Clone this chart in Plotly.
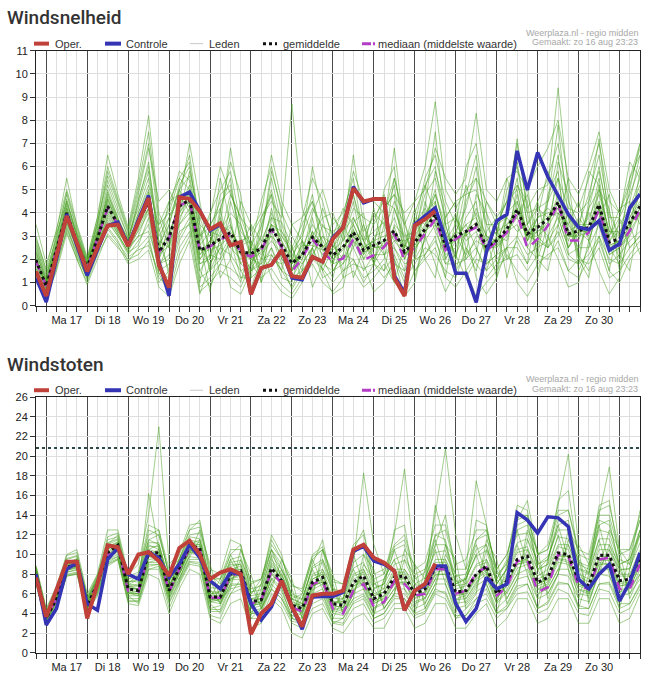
import pandas as pd
import plotly.graph_objects as go

# tijdas: 6-uurlijkse stappen, zo 16 aug 18:00 t/m ma 31 aug 12:00
tijden = pd.date_range('2020-08-16 18:00', periods=60, freq='6h')
middagen = pd.date_range('2020-08-17 12:00', periods=14, freq='D')
dagwissels = pd.date_range('2020-08-17 00:00', periods=15, freq='D')
dag_labels = ['Ma 17', 'Di 18', 'Wo 19', 'Do 20', 'Vr 21', 'Za 22', 'Zo 23',
              'Ma 24', 'Di 25', 'Wo 26', 'Do 27', 'Vr 28', 'Za 29', 'Zo 30']

# ---- Windsnelheid (m/s) ----
oper_snelheid = [1.48, 0.42, 2.15, 3.87, 2.7, 1.48, 2.5, 3.45, 3.5, 2.57,
                 3.6, 4.64, 1.76, 0.77, 4.68, 4.61, 4.08, 3.3, 3.55, 2.6,
                 2.74, 0.49, 1.62, 1.76, 2.39, 1.27, 1.2, 2.1, 1.9, 2.88,
                 3.37, 5.06, 4.5, 4.6, 4.6, 1.2, 0.42, 3.45, 3.73, 4.08]
controle_snelheid = [1.2, 0.15, 2.0, 3.95, 2.6, 1.3, 2.4, 3.45, 3.6, 2.6,
                     3.7, 4.75, 1.9, 0.42, 4.68, 4.9, 4.1, 3.24, 3.5, 2.6,
                     2.74, 0.5, 1.62, 1.76, 2.39, 1.2, 1.12, 2.1, 1.9, 2.95,
                     3.37, 5.13, 4.43, 4.6, 4.6, 1.3, 0.55, 3.5, 3.87, 4.22,
                     2.9, 1.4, 1.4, 0.14, 2.32, 3.66, 3.94, 6.68, 4.99, 6.61,
                     5.56, 4.71, 3.94, 3.38, 3.28, 3.66, 2.39, 2.67, 4.22, 4.82]
gem_snelheid = [1.97, 0.84, 2.4, 4.0, 2.7, 1.62, 2.9, 4.29, 3.52, 2.67,
                3.6, 4.5, 2.32, 2.95, 4.29, 4.57, 2.39, 2.6, 2.88, 3.16,
                2.32, 2.25, 2.46, 3.38, 2.6, 1.83, 2.18, 2.95, 2.53, 2.18,
                2.53, 3.16, 2.39, 2.6, 2.81, 3.23, 2.32, 2.74, 3.3, 3.94,
                2.6, 3.0, 3.2, 3.5, 2.53, 2.81, 3.3, 4.15, 3.1, 3.38,
                3.73, 4.46, 3.1, 3.23, 3.38, 4.36, 2.74, 2.88, 3.59, 4.29]
med_snelheid = [1.9, 0.85, 2.4, 3.95, 2.7, 1.6, 2.9, 4.2, 3.5, 2.6,
                3.6, 4.45, 2.3, 2.9, 4.3, 4.55, 2.35, 2.55, 2.85, 3.05,
                2.3, 2.11, 2.39, 3.3, 2.53, 1.48, 2.04, 2.88, 2.32, 1.9,
                2.04, 2.88, 1.97, 2.18, 2.53, 3.1, 1.97, 2.53, 3.1, 3.73,
                2.4, 2.88, 3.16, 3.38, 2.39, 2.74, 3.16, 4.0, 2.46, 2.88,
                3.45, 4.43, 2.81, 2.81, 3.16, 4.15, 2.53, 2.6, 3.23, 4.15]
leden_snelheid = [
    [2.5, 1.2, 2.8, 4.6, 3.0, 1.8, 3.4, 5.2, 4.0, 3.0, 4.2, 5.5, 3.0, 3.8, 5.0, 5.6, 3.2, 1.5, 2.0, 4.5,
     3.0, 1.2, 3.5, 5.0, 3.2, 2.5, 1.5, 3.8, 2.0, 1.2, 3.0, 4.5, 2.2, 3.6, 4.8, 2.0, 1.0, 4.0, 5.2, 6.0,
     3.5, 2.0, 4.5, 5.5, 2.0, 1.5, 4.0, 6.2, 3.5, 2.5, 4.8, 5.8, 2.2, 1.8, 4.2, 6.0, 3.5, 2.0, 4.5, 6.5],
    [1.4, 0.5, 2.0, 3.5, 2.2, 1.2, 2.5, 3.6, 3.0, 2.2, 2.8, 3.5, 1.5, 1.8, 3.2, 3.5, 1.0, 3.5, 4.2, 2.0,
     1.0, 2.8, 1.5, 2.5, 1.2, 1.0, 2.8, 2.0, 3.5, 2.8, 1.5, 2.0, 1.2, 1.5, 2.0, 4.2, 2.8, 1.5, 2.2, 3.0,
     1.2, 3.8, 2.5, 1.5, 3.2, 3.8, 2.0, 2.8, 1.8, 4.5, 2.5, 3.0, 4.0, 2.2, 1.5, 3.0, 1.5, 3.8, 2.5, 3.0],
    [2.0, 0.8, 2.5, 4.2, 2.8, 1.6, 3.0, 4.8, 3.8, 2.8, 4.5, 6.2, 2.5, 4.5, 4.8, 4.0, 2.0, 2.5, 5.5, 3.5,
     1.8, 1.5, 2.0, 4.2, 2.5, 1.2, 2.0, 3.2, 1.5, 2.5, 3.5, 2.5, 3.5, 2.2, 1.5, 3.5, 3.0, 2.2, 4.5, 3.2,
     2.2, 2.5, 3.8, 4.5, 1.8, 2.2, 3.5, 3.8, 4.8, 3.0, 2.5, 4.0, 3.5, 4.5, 2.8, 4.2, 2.2, 2.5, 3.2, 5.0],
    [1.8, 1.0, 2.2, 3.8, 2.6, 1.4, 2.8, 4.0, 3.2, 2.5, 3.0, 4.2, 2.0, 3.5, 5.2, 6.0, 3.5, 3.0, 2.2, 3.0,
     2.5, 3.5, 2.8, 3.0, 1.8, 2.5, 3.5, 4.5, 3.2, 1.5, 2.2, 3.8, 2.8, 4.0, 3.5, 2.5, 1.5, 3.2, 3.8, 5.0,
     3.0, 4.0, 2.0, 3.0, 2.8, 3.5, 4.5, 5.0, 2.5, 2.0, 3.5, 5.5, 3.0, 3.0, 4.0, 3.5, 3.0, 4.2, 4.5, 3.5],
    [2.2, 0.6, 2.6, 4.4, 2.9, 1.7, 3.1, 4.5, 3.6, 2.7, 3.8, 4.8, 2.8, 2.5, 3.8, 4.5, 1.5, 2.2, 3.2, 4.0,
     3.5, 2.0, 1.8, 3.5, 3.0, 2.2, 1.8, 2.5, 3.0, 2.2, 1.8, 3.0, 2.0, 3.0, 3.2, 4.5, 3.5, 2.5, 3.0, 4.5,
     2.0, 2.8, 3.5, 2.5, 1.5, 3.0, 2.8, 4.5, 3.2, 3.8, 4.2, 3.8, 2.5, 3.5, 3.0, 5.2, 2.5, 1.8, 3.8, 4.8],
    [3.5, 1.8, 3.2, 5.5, 3.4, 2.0, 3.8, 6.5, 4.8, 3.4, 5.5, 8.2, 4.0, 3.0, 4.5, 7.0, 4.5, 2.0, 3.5, 6.8,
     4.2, 2.5, 4.5, 6.0, 4.0, 3.0, 2.2, 4.0, 5.0, 3.5, 4.0, 5.5, 3.0, 2.5, 5.0, 6.0, 2.5, 3.5, 5.5, 6.5,
     4.5, 3.5, 6.0, 7.0, 4.0, 3.0, 5.0, 6.0, 3.5, 4.5, 5.5, 7.0, 4.5, 3.5, 4.8, 6.5, 4.0, 3.0, 5.0, 7.0],
    [1.6, 0.4, 1.8, 3.2, 2.0, 1.0, 2.2, 3.0, 2.5, 2.0, 2.2, 2.8, 1.2, 0.8, 2.5, 3.2, 0.6, 1.0, 1.5, 1.2,
     0.8, 1.8, 1.2, 1.6, 0.9, 0.5, 1.2, 1.8, 1.0, 0.6, 1.2, 1.5, 0.8, 1.2, 1.8, 1.0, 0.5, 1.5, 2.0, 2.5,
     1.2, 0.8, 1.5, 0.4, 1.0, 1.5, 2.2, 1.5, 1.0, 1.8, 2.2, 2.5, 1.5, 1.2, 2.0, 2.8, 1.5, 1.0, 2.0, 2.5],
    [2.8, 1.4, 2.6, 4.0, 2.8, 1.8, 3.2, 4.6, 3.5, 2.6, 3.5, 4.2, 3.5, 4.5, 5.5, 5.0, 2.8, 4.0, 5.0, 5.8,
     3.5, 2.2, 3.0, 5.5, 3.5, 2.0, 3.2, 4.8, 2.5, 3.0, 4.2, 3.5, 2.5, 2.8, 3.8, 5.2, 2.2, 2.8, 4.0, 4.5,
     2.5, 3.2, 4.2, 6.0, 3.5, 2.5, 3.0, 4.8, 3.0, 2.8, 4.5, 6.5, 3.2, 2.5, 3.5, 5.5, 2.8, 3.5, 4.2, 5.5],
    [1.9, 0.9, 2.4, 4.1, 2.7, 1.5, 2.9, 4.4, 3.4, 2.6, 3.2, 4.0, 1.8, 2.2, 4.0, 4.8, 2.2, 2.8, 3.8, 2.5,
     2.0, 2.5, 2.2, 2.8, 2.2, 1.5, 2.5, 3.5, 2.8, 2.0, 2.5, 3.2, 2.0, 2.5, 2.5, 3.0, 2.0, 3.5, 4.2, 3.5,
     2.8, 3.5, 2.8, 3.2, 2.2, 3.5, 3.8, 3.2, 3.5, 4.2, 3.8, 4.0, 2.8, 3.8, 3.2, 4.0, 2.2, 2.5, 3.0, 4.0],
    [2.3, 1.0, 2.7, 4.3, 2.5, 1.7, 3.3, 5.0, 3.8, 2.4, 4.0, 5.0, 2.2, 3.2, 4.2, 5.2, 2.5, 1.8, 2.5, 3.8,
     1.5, 1.8, 2.6, 4.0, 2.8, 1.8, 2.2, 2.8, 2.2, 2.5, 3.2, 3.8, 2.8, 2.0, 2.8, 3.8, 2.5, 3.8, 3.5, 4.8,
     3.2, 2.2, 3.2, 4.0, 3.0, 2.8, 3.8, 5.5, 2.8, 3.2, 3.5, 4.8, 3.8, 3.2, 3.8, 4.8, 3.2, 3.0, 4.0, 5.2],
    [1.2, 0.3, 1.6, 3.3, 2.3, 1.1, 2.4, 3.4, 2.8, 1.9, 2.5, 3.0, 1.0, 1.5, 3.0, 3.8, 1.2, 1.5, 2.5, 2.2,
     1.5, 0.8, 2.0, 2.2, 1.5, 1.2, 1.5, 2.2, 1.8, 1.5, 1.8, 2.5, 1.5, 2.2, 2.2, 2.5, 1.8, 2.0, 2.8, 3.5,
     1.8, 2.2, 1.2, 2.0, 1.8, 2.2, 2.5, 3.0, 2.2, 2.5, 2.8, 3.5, 2.2, 2.5, 2.5, 3.5, 1.8, 2.2, 2.8, 3.2],
    [2.6, 1.1, 3.0, 4.8, 3.2, 1.9, 3.6, 5.6, 4.4, 3.1, 4.8, 6.8, 4.5, 5.0, 4.0, 5.8, 3.8, 2.5, 4.8, 5.2,
     2.8, 3.0, 3.8, 4.5, 3.8, 8.7, 4.2, 3.0, 3.8, 4.0, 2.8, 4.2, 3.8, 3.5, 4.2, 4.8, 4.0, 4.5, 6.0, 8.8,
     5.0, 4.2, 5.0, 5.5, 4.5, 3.8, 4.5, 7.0, 4.2, 5.0, 5.2, 9.4, 5.0, 4.2, 5.5, 7.0, 4.5, 4.0, 5.5, 6.5],
    [1.7, 0.7, 2.3, 3.7, 2.4, 1.3, 2.6, 3.8, 3.1, 2.3, 2.6, 3.8, 1.6, 2.8, 3.5, 4.2, 1.8, 2.2, 2.0, 2.8,
     2.2, 2.2, 1.5, 3.2, 2.0, 1.5, 2.2, 3.0, 2.4, 1.8, 2.0, 2.8, 2.2, 2.8, 2.2, 2.8, 2.2, 2.6, 3.2, 3.8,
     2.5, 3.0, 2.2, 2.8, 2.5, 2.5, 3.2, 3.5, 2.5, 3.5, 3.0, 3.8, 2.5, 3.2, 2.8, 4.2, 2.5, 2.8, 3.2, 4.0],
    [2.1, 0.9, 2.5, 3.9, 2.8, 1.6, 3.0, 4.2, 3.3, 2.7, 3.6, 4.5, 2.4, 3.8, 4.6, 4.8, 2.6, 3.2, 3.0, 3.5,
     2.2, 2.0, 2.8, 3.8, 2.8, 2.0, 2.0, 3.2, 2.6, 2.4, 2.8, 3.5, 2.5, 2.8, 3.0, 3.2, 2.4, 2.8, 3.5, 4.2,
     2.8, 3.0, 3.5, 3.8, 2.8, 3.2, 3.5, 4.2, 3.2, 3.5, 3.8, 4.5, 3.2, 3.5, 3.5, 4.5, 2.8, 3.2, 3.8, 4.5],
    [3.0, 1.5, 2.9, 4.9, 3.3, 2.0, 3.5, 5.8, 4.5, 3.2, 5.0, 7.0, 3.5, 4.0, 5.5, 6.2, 3.0, 3.8, 6.0, 4.8,
     3.8, 3.2, 4.0, 6.5, 4.5, 3.5, 3.8, 5.5, 4.5, 2.8, 3.8, 5.8, 4.5, 4.5, 4.0, 5.5, 3.5, 4.5, 5.0, 6.8,
     5.5, 4.8, 5.5, 8.3, 5.0, 4.5, 5.5, 5.8, 5.0, 6.0, 6.8, 8.0, 5.5, 4.8, 6.0, 7.5, 5.0, 4.0, 5.2, 6.8],
    [1.5, 0.6, 2.1, 3.6, 2.5, 1.3, 2.7, 3.7, 3.0, 2.4, 3.0, 3.2, 1.8, 2.0, 3.5, 4.0, 1.5, 0.8, 1.8, 2.8,
     1.2, 1.5, 1.8, 2.5, 1.5, 0.8, 1.8, 2.5, 1.2, 1.5, 2.2, 2.0, 1.0, 1.8, 1.5, 2.2, 1.2, 1.8, 2.5, 2.2,
     1.5, 1.2, 2.5, 1.8, 1.2, 1.8, 2.0, 2.2, 1.5, 2.2, 2.0, 2.8, 1.5, 2.0, 1.8, 2.5, 1.2, 1.5, 2.2, 2.8],
    [2.4, 1.0, 2.6, 4.2, 3.1, 1.9, 3.0, 4.9, 3.6, 2.8, 4.4, 5.8, 2.8, 1.5, 4.4, 5.0, 2.0, 2.8, 3.5, 3.2,
     2.6, 2.8, 2.0, 3.5, 3.2, 2.2, 2.8, 2.2, 3.0, 2.6, 2.0, 3.2, 2.8, 3.2, 3.6, 2.8, 2.8, 3.0, 3.8, 4.8,
     3.5, 3.8, 3.0, 4.2, 3.0, 2.6, 4.0, 4.5, 2.8, 3.8, 4.0, 4.2, 3.5, 2.8, 4.2, 5.0, 3.2, 3.2, 3.5, 4.2],
    [2.0, 0.8, 2.3, 4.0, 2.6, 1.5, 2.8, 4.3, 3.3, 2.5, 3.4, 4.6, 2.0, 3.0, 4.4, 4.4, 2.4, 2.4, 2.6, 3.0,
     1.8, 2.4, 2.5, 3.0, 2.5, 1.8, 2.6, 2.6, 2.4, 2.2, 2.6, 3.0, 2.4, 2.6, 2.8, 3.0, 2.6, 2.4, 3.2, 3.6,
     2.4, 3.2, 3.0, 3.5, 2.6, 2.8, 3.2, 3.8, 3.0, 3.0, 3.4, 4.2, 3.0, 3.2, 3.2, 4.2, 2.6, 2.8, 3.4, 4.2],
    [2.7, 1.3, 3.1, 4.5, 3.0, 1.8, 3.6, 5.4, 4.2, 2.9, 4.6, 6.0, 3.2, 4.2, 5.8, 5.4, 3.0, 3.4, 4.5, 5.0,
     3.2, 2.6, 3.4, 4.8, 3.0, 2.4, 3.0, 4.2, 3.4, 3.2, 3.5, 4.8, 3.2, 3.8, 4.5, 4.2, 3.0, 3.2, 4.8, 5.5,
     3.8, 4.5, 4.8, 5.0, 3.5, 3.5, 4.5, 5.2, 4.0, 4.2, 4.5, 5.5, 4.2, 4.0, 4.5, 5.8, 3.8, 3.8, 4.8, 6.0],
    [1.3, 0.4, 1.9, 3.4, 2.1, 1.2, 2.3, 3.3, 2.7, 2.1, 2.4, 2.6, 1.4, 1.2, 2.8, 3.6, 0.8, 1.2, 1.8, 1.6,
     1.2, 1.2, 1.6, 2.0, 1.8, 0.7, 1.5, 2.0, 1.6, 1.0, 1.5, 1.8, 1.6, 1.8, 1.2, 1.8, 1.5, 2.0, 2.2, 2.8,
     1.8, 1.8, 2.0, 2.5, 1.5, 2.0, 2.5, 2.5, 1.8, 2.8, 2.5, 3.2, 2.0, 1.8, 2.2, 3.0, 2.0, 1.8, 2.5, 3.0],
    [2.3, 1.1, 2.6, 4.5, 3.1, 1.8, 3.2, 4.7, 3.7, 2.9, 4.0, 5.2, 3.4, 1.2, 3.6, 5.0, 2.8, 0.6, 3.0, 4.8,
     3.8, 2.6, 1.0, 3.8, 3.6, 2.6, 1.0, 2.5, 4.2, 3.0, 1.2, 3.6, 4.0, 1.8, 2.6, 5.5, 3.8, 1.2, 3.0, 5.8,
     4.2, 1.5, 2.2, 4.8, 4.0, 1.8, 2.5, 5.2, 4.5, 1.5, 2.8, 6.2, 4.8, 1.5, 2.5, 5.0, 4.2, 1.5, 3.2, 5.8],
    [1.6, 0.6, 2.2, 3.6, 2.4, 1.4, 2.6, 3.9, 3.1, 2.3, 3.3, 4.2, 1.4, 0.5, 2.2, 3.0, 3.8, 3.5, 1.2, 2.0,
     4.5, 3.5, 1.0, 2.2, 1.5, 3.5, 2.8, 0.8, 1.8, 3.8, 3.2, 1.2, 2.5, 4.2, 2.2, 1.0, 2.6, 4.2, 2.0, 1.2,
     3.8, 4.5, 1.5, 2.2, 4.5, 3.5, 1.2, 3.0, 5.2, 2.0, 1.5, 3.5, 5.5, 2.0, 1.2, 3.8, 4.8, 2.2, 1.5, 4.0],
    [2.9, 1.6, 3.3, 5.0, 3.5, 2.1, 3.8, 6.0, 4.6, 3.3, 5.2, 7.5, 3.8, 2.5, 5.0, 6.5, 3.5, 1.5, 4.0, 6.2,
     4.8, 1.8, 3.0, 5.8, 4.2, 1.5, 2.8, 6.0, 3.8, 1.8, 3.2, 6.5, 3.5, 1.8, 3.5, 6.8, 3.2, 2.0, 4.2, 7.5,
     3.5, 2.0, 4.8, 6.5, 3.0, 1.2, 4.0, 7.2, 4.0, 2.2, 4.5, 7.8, 3.8, 2.0, 4.5, 7.2, 3.5, 2.5, 5.5, 7.0],
    [1.1, 0.3, 1.5, 3.1, 2.0, 0.9, 2.0, 3.1, 2.6, 1.8, 2.0, 2.4, 0.8, 0.4, 1.8, 2.8, 0.5, 1.8, 2.8, 0.8,
     0.5, 1.5, 2.5, 1.2, 0.6, 0.3, 1.0, 2.5, 1.5, 0.5, 0.8, 2.8, 1.8, 0.6, 1.0, 2.0, 0.4, 1.0, 3.0, 1.8,
     0.6, 1.5, 3.2, 1.2, 0.5, 1.2, 2.5, 1.0, 0.4, 1.2, 3.0, 2.0, 0.8, 1.0, 2.8, 1.5, 0.5, 1.2, 3.5, 2.2],
    [2.0, 1.0, 2.4, 4.0, 2.7, 1.6, 2.9, 4.6, 3.6, 2.7, 3.8, 4.9, 2.6, 3.5, 5.0, 4.2, 1.8, 2.0, 4.2, 5.5,
     2.5, 1.5, 3.8, 4.8, 2.0, 1.8, 3.8, 4.5, 2.5, 1.8, 3.8, 4.8, 2.8, 1.8, 4.2, 4.8, 2.0, 3.0, 5.2, 4.0,
     2.0, 3.0, 5.2, 3.8, 2.2, 3.0, 5.5, 4.2, 2.8, 3.8, 5.8, 4.5, 2.5, 3.2, 5.8, 5.2, 3.0, 3.8, 6.2, 5.5],
    [1.8, 0.7, 2.2, 3.8, 2.5, 1.5, 2.7, 4.1, 3.2, 2.6, 3.5, 4.4, 2.2, 2.6, 4.0, 4.6, 2.2, 2.6, 2.8, 3.4,
     2.4, 2.0, 2.3, 3.5, 2.4, 1.6, 2.3, 3.0, 2.6, 2.0, 2.4, 3.3, 2.3, 2.5, 2.6, 3.4, 2.2, 2.6, 3.4, 4.0,
     2.6, 2.8, 3.2, 3.6, 2.4, 2.6, 3.2, 4.2, 3.0, 3.2, 3.6, 4.4, 3.0, 3.0, 3.2, 4.4, 2.6, 2.8, 3.6, 4.4],
]

# ---- Windstoten (m/s) ----
oper_stoten = [7.67, 3.67, 6.4, 9.27, 9.27, 3.5, 7.0, 10.93, 10.73, 8.0,
               10.0, 10.23, 9.33, 7.83, 10.67, 11.4, 10.0, 7.5, 8.17, 8.5,
               8.0, 1.9, 4.0, 5.0, 7.33, 4.67, 2.67, 5.83, 6.0, 6.0,
               6.33, 10.5, 11.0, 9.67, 9.17, 8.33, 4.33, 6.33, 7.0, 9.07]
controle_stoten = [8.0, 2.83, 4.5, 8.5, 9.17, 5.0, 4.33, 9.5, 10.67, 8.0,
                   7.5, 10.23, 9.67, 7.67, 9.0, 11.0, 9.67, 7.33, 6.5, 8.17,
                   8.0, 5.0, 3.33, 4.67, 7.33, 4.67, 2.4, 5.67, 5.73, 5.73,
                   6.17, 10.33, 10.83, 9.33, 9.0, 8.33, 4.33, 6.33, 6.83, 8.83,
                   8.83, 5.0, 3.17, 4.5, 7.67, 6.5, 7.0, 14.27, 13.5, 12.17,
                   13.83, 13.73, 12.83, 7.5, 6.5, 8.0, 9.0, 5.27, 7.17, 10.17]
gem_stoten = [8.0, 3.5, 5.5, 8.7, 9.0, 4.8, 7.0, 10.2, 10.93, 6.5,
              6.33, 10.17, 10.17, 6.33, 8.67, 10.83, 10.67, 5.67, 5.67, 8.0,
              8.33, 5.17, 5.4, 8.6, 7.33, 4.83, 4.5, 7.17, 7.67, 5.0,
              4.83, 7.17, 7.83, 5.5, 6.0, 7.67, 7.83, 6.0, 6.5, 8.67,
              8.83, 6.17, 6.33, 8.0, 8.83, 6.0, 7.33, 9.5, 9.83, 7.17,
              7.67, 10.17, 10.0, 7.33, 6.83, 9.93, 9.93, 7.33, 7.5, 9.67]
med_stoten = [7.9, 3.6, 5.5, 8.6, 9.0, 4.9, 7.0, 10.0, 10.7, 6.3,
              6.2, 10.0, 10.0, 6.2, 8.5, 10.7, 10.5, 5.6, 5.6, 7.8,
              8.2, 5.0, 5.33, 8.33, 7.0, 4.67, 4.17, 7.0, 7.33, 4.5,
              4.0, 6.33, 7.0, 4.67, 5.17, 7.33, 7.0, 5.83, 6.0, 8.5,
              8.5, 6.0, 6.33, 8.17, 8.67, 5.83, 6.67, 9.33, 9.5, 6.17,
              6.67, 10.0, 9.83, 6.83, 6.5, 9.5, 9.67, 6.5, 6.5, 9.0]
leden_stoten = [
    [8.5, 4.0, 6.5, 9.5, 9.8, 5.5, 7.5, 11.5, 11.8, 7.5, 7.8, 11.5, 11.0, 7.2, 9.5, 12.0, 12.2, 7.0, 6.8, 9.5,
     9.8, 6.5, 6.8, 10.5, 8.5, 6.0, 5.5, 8.8, 9.5, 6.5, 6.2, 9.2, 10.0, 7.0, 7.5, 9.5, 10.0, 7.5, 8.2, 11.0,
     11.0, 7.8, 8.0, 10.5, 11.0, 7.5, 9.2, 12.0, 12.2, 9.0, 9.8, 12.5, 12.5, 9.2, 8.8, 12.5, 12.2, 9.0, 9.5, 12.0],
    [7.2, 3.0, 4.8, 8.0, 8.2, 4.2, 6.2, 9.2, 9.8, 5.5, 5.5, 9.0, 9.0, 5.5, 7.5, 9.5, 9.5, 4.5, 4.8, 7.0,
     7.0, 4.2, 4.5, 7.5, 6.2, 3.8, 3.5, 6.0, 6.5, 4.0, 3.8, 6.0, 6.5, 4.5, 5.0, 6.5, 6.5, 5.0, 5.5, 7.5,
     7.5, 5.0, 5.2, 6.8, 7.5, 5.0, 6.2, 8.0, 8.5, 6.0, 6.5, 8.5, 8.5, 6.0, 5.8, 8.5, 8.5, 6.2, 6.5, 8.0],
    [8.8, 4.5, 6.8, 10.0, 10.5, 6.0, 8.0, 12.5, 12.5, 8.0, 9.0, 14.0, 23.0, 9.0, 10.2, 13.0, 13.2, 8.5, 8.0, 11.5,
     11.0, 7.0, 7.5, 11.5, 9.5, 7.0, 6.2, 10.0, 10.8, 7.5, 7.0, 11.0, 12.0, 8.0, 8.5, 11.0, 12.0, 8.5, 9.2, 13.0,
     13.0, 9.0, 9.5, 12.5, 12.5, 8.5, 10.0, 14.0, 14.0, 10.0, 10.5, 14.5, 14.5, 10.0, 9.5, 14.0, 14.0, 10.0, 10.5, 13.5],
    [7.8, 3.8, 5.8, 9.0, 9.2, 5.0, 7.2, 10.5, 11.2, 6.8, 6.5, 16.2, 10.5, 6.5, 8.8, 11.0, 11.0, 6.0, 6.0, 8.5,
     8.5, 5.5, 5.5, 9.0, 7.5, 5.0, 4.5, 7.5, 8.0, 5.0, 5.5, 9.0, 18.3, 11.0, 8.0, 12.0, 18.7, 9.0, 7.5, 14.0,
     20.8, 12.0, 8.5, 17.5, 13.0, 8.0, 9.0, 13.5, 15.5, 10.0, 11.0, 15.0, 20.2, 11.0, 9.0, 14.0, 18.9, 10.5, 9.0, 12.5],
    [8.2, 3.2, 5.2, 8.4, 8.6, 4.5, 6.8, 9.8, 10.5, 6.2, 6.0, 9.8, 9.8, 6.0, 8.4, 10.5, 10.2, 5.2, 5.4, 7.8,
     8.0, 4.8, 5.0, 8.2, 7.0, 4.5, 4.0, 6.8, 7.2, 4.5, 4.2, 6.5, 7.2, 5.0, 5.5, 7.0, 7.0, 5.5, 6.0, 8.0,
     8.0, 5.5, 5.8, 7.5, 8.2, 5.5, 6.8, 9.0, 9.2, 6.5, 7.0, 9.5, 9.2, 6.5, 6.2, 9.2, 9.0, 6.8, 7.0, 9.0],
    [7.5, 3.3, 5.0, 8.2, 8.5, 4.5, 6.5, 9.5, 10.0, 5.8, 5.0, 8.5, 8.5, 4.5, 7.0, 9.0, 8.8, 3.8, 3.5, 6.0,
     6.5, 3.5, 3.5, 6.0, 5.0, 3.0, 2.5, 4.5, 5.0, 3.0, 2.8, 4.5, 5.0, 3.0, 3.5, 5.0, 5.0, 3.5, 4.0, 6.0,
     5.5, 3.5, 3.8, 5.0, 5.5, 3.5, 4.5, 6.0, 6.2, 4.0, 4.5, 6.5, 6.0, 4.0, 3.8, 6.5, 6.2, 4.0, 4.5, 6.5],
    [8.0, 3.6, 5.6, 8.8, 9.0, 5.0, 7.0, 10.2, 10.8, 6.5, 6.5, 10.5, 11.0, 7.5, 8.0, 9.8, 11.5, 7.5, 5.0, 7.0,
     9.5, 7.0, 4.5, 7.0, 8.5, 6.5, 3.5, 6.0, 9.5, 7.0, 4.0, 6.0, 9.0, 7.5, 4.5, 6.0, 9.5, 8.0, 5.0, 7.0,
     10.0, 8.0, 5.0, 6.5, 10.5, 8.5, 5.5, 7.5, 11.5, 9.5, 6.0, 8.0, 11.5, 9.5, 5.5, 8.0, 11.0, 9.0, 6.0, 8.5],
    [8.3, 3.9, 6.0, 9.2, 9.4, 5.2, 7.5, 11.0, 11.5, 7.0, 6.8, 10.8, 10.8, 6.8, 9.2, 11.5, 11.2, 6.2, 6.2, 8.8,
     9.0, 5.8, 6.0, 9.5, 8.0, 5.5, 5.0, 8.0, 8.5, 5.5, 5.5, 8.0, 8.5, 6.0, 6.5, 8.5, 8.5, 6.5, 7.0, 9.5,
     9.5, 6.8, 7.0, 9.0, 9.5, 6.5, 8.0, 10.5, 10.8, 7.8, 8.5, 11.0, 11.0, 8.0, 7.5, 11.0, 11.0, 8.0, 8.0, 10.5],
    [7.6, 3.4, 5.4, 8.5, 8.8, 4.6, 6.6, 9.8, 10.2, 6.0, 6.0, 9.5, 9.6, 6.0, 8.0, 10.2, 10.0, 5.5, 5.2, 7.5,
     7.8, 4.8, 5.2, 8.0, 7.0, 4.5, 4.2, 7.0, 7.5, 4.8, 4.6, 7.0, 7.5, 5.2, 5.8, 7.5, 7.5, 5.8, 6.2, 8.5,
     8.5, 6.0, 6.2, 8.0, 8.5, 5.8, 7.0, 9.2, 9.5, 7.0, 7.5, 10.0, 9.8, 7.0, 6.5, 9.8, 9.8, 7.2, 7.2, 9.5],
    [8.6, 4.2, 6.2, 9.0, 9.5, 5.5, 7.8, 10.8, 11.2, 7.2, 7.5, 12.5, 12.0, 8.0, 8.5, 11.0, 11.5, 7.5, 7.5, 9.0,
     9.0, 6.0, 7.5, 10.5, 9.0, 5.5, 6.0, 9.5, 10.5, 6.0, 6.5, 10.0, 11.0, 6.5, 7.0, 10.5, 11.0, 6.0, 7.0, 12.0,
     11.5, 7.0, 7.5, 11.5, 12.0, 7.0, 8.5, 13.0, 13.5, 8.5, 9.5, 13.5, 13.0, 8.5, 8.0, 13.0, 13.5, 8.5, 8.5, 12.5],
    [7.0, 2.8, 4.5, 7.8, 8.0, 4.0, 5.8, 8.8, 9.5, 5.2, 5.2, 8.5, 8.8, 5.0, 7.2, 9.2, 9.0, 4.2, 4.2, 6.5,
     6.8, 4.0, 4.2, 7.0, 5.8, 3.5, 3.2, 5.5, 6.0, 3.5, 3.5, 5.5, 6.0, 4.0, 4.5, 6.0, 6.0, 4.5, 5.0, 7.0,
     7.0, 4.5, 4.8, 6.2, 7.0, 4.5, 5.5, 7.5, 7.8, 5.5, 6.0, 8.0, 7.8, 5.5, 5.2, 8.0, 7.8, 5.8, 6.0, 7.5],
    [8.4, 3.7, 5.9, 9.1, 9.3, 5.2, 7.3, 10.6, 11.0, 6.8, 7.0, 11.0, 10.5, 6.8, 9.0, 11.2, 11.0, 6.0, 6.2, 8.5,
     8.8, 5.5, 5.8, 9.2, 7.8, 5.2, 4.8, 7.8, 8.2, 5.2, 5.2, 7.8, 8.2, 5.8, 6.2, 8.2, 8.2, 6.2, 6.8, 9.2,
     9.2, 6.5, 6.8, 8.8, 9.2, 6.2, 7.8, 10.2, 10.5, 7.5, 8.0, 10.8, 10.5, 7.8, 7.2, 10.5, 10.5, 7.8, 7.8, 10.2],
    [8.1, 3.5, 5.7, 8.9, 9.1, 4.9, 7.1, 10.3, 11.0, 6.6, 6.5, 10.2, 10.2, 6.5, 8.8, 11.0, 10.8, 5.8, 5.8, 8.2,
     8.5, 5.2, 5.5, 8.8, 7.5, 5.0, 4.8, 7.5, 8.0, 5.2, 5.0, 7.5, 8.0, 5.8, 6.2, 8.0, 8.0, 6.2, 6.8, 15.0,
     11.0, 7.0, 7.5, 10.0, 11.0, 7.0, 8.5, 12.5, 13.0, 9.0, 9.5, 13.0, 13.5, 9.0, 8.5, 13.5, 13.0, 9.0, 9.5, 12.5],
    [7.9, 3.3, 5.3, 8.6, 8.9, 4.7, 6.9, 10.0, 10.7, 6.4, 6.2, 10.0, 10.0, 6.2, 8.5, 10.6, 10.5, 5.5, 5.5, 7.8,
     8.2, 5.0, 5.2, 8.5, 7.2, 4.6, 4.3, 6.8, 7.4, 4.8, 4.6, 6.8, 7.4, 5.2, 5.8, 7.4, 7.6, 5.8, 6.2, 8.5,
     8.6, 6.0, 6.0, 7.8, 8.6, 5.8, 7.0, 9.2, 9.6, 7.0, 7.4, 9.8, 9.8, 7.0, 6.6, 9.6, 9.6, 7.0, 7.2, 9.4],
    [8.0, 3.5, 5.5, 8.8, 8.8, 4.8, 7.0, 10.0, 10.8, 6.5, 6.5, 10.0, 10.5, 7.0, 8.0, 10.5, 10.5, 6.5, 5.0, 7.5,
     8.0, 5.5, 5.0, 7.5, 8.0, 5.5, 4.0, 6.5, 8.5, 6.5, 4.0, 6.0, 8.5, 6.5, 5.0, 6.5, 8.5, 7.0, 5.5, 7.5,
     9.5, 7.5, 5.5, 7.0, 9.5, 7.5, 6.0, 8.0, 10.5, 8.5, 6.5, 8.5, 11.0, 8.5, 6.0, 8.5, 10.5, 8.5, 6.5, 9.0],
    [7.4, 3.1, 5.0, 8.2, 8.4, 4.4, 6.4, 9.4, 9.8, 5.8, 5.8, 9.2, 9.2, 5.8, 7.6, 9.8, 9.6, 5.0, 4.0, 6.0,
     7.5, 3.5, 4.5, 6.5, 5.5, 3.5, 3.0, 5.5, 6.0, 3.0, 3.5, 5.0, 5.5, 3.5, 4.0, 5.5, 5.5, 4.0, 4.5, 6.5,
     6.0, 3.5, 4.5, 5.5, 6.0, 4.0, 4.5, 6.5, 7.0, 4.5, 5.0, 7.0, 7.0, 4.5, 4.5, 7.0, 7.0, 4.5, 5.0, 7.0],
    [8.7, 4.1, 6.3, 9.6, 9.9, 5.6, 7.7, 11.2, 11.6, 7.3, 7.2, 11.2, 11.2, 7.2, 9.6, 11.8, 11.6, 6.6, 6.6, 9.2,
     9.4, 6.2, 6.4, 10.0, 8.4, 5.8, 5.4, 8.6, 9.2, 6.0, 6.0, 8.6, 9.2, 6.6, 7.0, 9.0, 9.4, 7.0, 7.6, 10.2,
     10.4, 7.2, 7.6, 9.8, 10.4, 7.0, 8.6, 11.2, 11.6, 8.4, 9.0, 11.8, 11.6, 8.6, 8.2, 11.6, 11.6, 8.4, 8.6, 11.2],
    [7.7, 3.4, 5.4, 8.6, 8.8, 4.8, 6.8, 10.0, 10.5, 6.2, 6.2, 9.8, 9.8, 6.2, 8.2, 10.4, 10.2, 5.4, 5.4, 7.6,
     8.0, 4.8, 5.0, 8.0, 7.0, 4.6, 4.2, 6.8, 7.2, 4.6, 4.4, 6.8, 7.2, 5.0, 5.6, 7.2, 7.2, 5.6, 6.0, 8.2,
     8.4, 5.8, 6.0, 7.6, 8.4, 5.6, 6.8, 9.0, 9.4, 6.8, 7.2, 9.6, 9.4, 6.8, 6.4, 9.4, 9.4, 6.8, 7.0, 9.2],
    [8.2, 3.8, 6.0, 9.0, 9.6, 5.4, 7.6, 11.0, 12.0, 7.0, 8.0, 13.0, 12.5, 8.5, 9.5, 12.5, 13.5, 8.0, 7.0, 10.0,
     11.0, 6.0, 7.0, 12.0, 10.0, 5.5, 5.0, 9.0, 11.5, 6.5, 5.5, 10.5, 12.5, 7.0, 6.5, 12.5, 13.0, 7.0, 6.5, 11.0,
     14.0, 8.0, 7.0, 13.5, 13.0, 7.5, 9.5, 15.0, 14.5, 8.5, 9.0, 15.5, 16.5, 9.5, 8.0, 15.0, 15.5, 9.5, 9.0, 14.5],
    [7.3, 3.0, 4.6, 7.8, 8.0, 4.0, 6.0, 9.0, 9.5, 5.0, 4.8, 8.0, 7.5, 4.0, 6.5, 8.5, 8.0, 3.5, 3.0, 5.0,
     5.5, 2.5, 3.0, 5.5, 4.5, 2.0, 1.5, 4.0, 4.5, 2.5, 2.0, 3.5, 4.0, 2.5, 2.5, 4.5, 4.5, 2.5, 3.0, 5.0,
     5.0, 2.5, 2.5, 4.0, 5.0, 2.5, 3.5, 5.5, 5.5, 3.0, 3.5, 5.5, 5.5, 3.0, 3.0, 5.5, 5.5, 3.0, 3.5, 6.0],
    [8.4, 3.9, 6.1, 9.3, 9.5, 5.3, 7.4, 10.8, 11.3, 6.9, 7.5, 11.5, 12.0, 8.0, 7.5, 10.0, 12.5, 9.0, 5.5, 6.5,
     10.5, 8.0, 4.5, 6.5, 9.5, 7.5, 3.5, 5.5, 10.5, 8.0, 4.0, 5.5, 10.0, 8.5, 4.5, 6.0, 10.5, 9.0, 4.5, 6.5,
     11.0, 9.5, 4.5, 6.0, 11.5, 9.5, 5.0, 7.0, 12.5, 10.5, 5.5, 8.0, 12.5, 10.5, 5.0, 8.5, 12.5, 10.5, 5.5, 8.0],
    [7.8, 3.2, 5.2, 8.4, 8.7, 4.6, 6.7, 9.7, 10.4, 6.1, 6.0, 9.2, 9.5, 5.5, 8.0, 10.5, 10.0, 5.0, 6.5, 9.5,
     7.5, 3.8, 6.5, 9.8, 6.5, 3.5, 5.5, 8.5, 6.5, 3.5, 5.5, 8.5, 6.5, 3.8, 7.5, 9.5, 6.5, 4.0, 7.5, 10.5,
     7.0, 4.0, 7.5, 10.0, 7.0, 4.0, 8.0, 11.0, 8.0, 4.5, 8.5, 12.0, 8.5, 4.5, 8.0, 11.5, 8.0, 4.5, 8.5, 12.0],
    [8.9, 4.4, 6.6, 9.9, 10.2, 5.8, 7.9, 11.8, 12.2, 7.8, 8.2, 12.0, 12.5, 7.8, 10.0, 12.5, 12.8, 7.8, 7.5, 10.5,
     10.5, 7.2, 7.5, 11.0, 9.5, 6.8, 6.5, 9.8, 10.5, 7.2, 7.0, 10.2, 11.0, 7.5, 8.0, 10.8, 11.5, 8.0, 8.5, 12.0,
     12.5, 8.5, 8.5, 11.5, 12.5, 8.5, 10.0, 13.5, 14.0, 10.0, 10.5, 14.0, 14.5, 10.5, 10.0, 14.5, 15.0, 10.5, 10.5, 14.0],
    [7.1, 2.9, 4.7, 7.9, 8.1, 4.1, 6.1, 9.1, 9.6, 5.3, 5.3, 8.8, 9.0, 5.2, 7.3, 9.3, 9.2, 4.4, 4.4, 6.8,
     7.0, 4.0, 4.0, 6.5, 5.5, 3.2, 3.0, 5.0, 5.5, 3.2, 3.0, 5.2, 5.8, 3.5, 4.0, 5.8, 5.5, 3.8, 4.2, 6.2,
     6.2, 3.8, 3.8, 5.5, 6.5, 4.0, 4.8, 6.8, 7.0, 4.5, 5.2, 7.2, 7.0, 4.8, 4.5, 7.0, 7.2, 5.0, 5.0, 6.8],
    [8.3, 3.6, 5.8, 9.0, 9.2, 5.1, 7.2, 10.5, 11.1, 6.7, 6.8, 10.5, 10.2, 6.5, 9.5, 11.5, 10.5, 5.5, 7.5, 10.0,
     8.0, 4.5, 7.0, 10.5, 7.5, 4.2, 6.0, 9.5, 7.0, 4.0, 6.5, 10.0, 7.0, 4.0, 7.5, 10.5, 7.5, 4.5, 8.5, 11.5,
     8.0, 4.5, 8.0, 11.0, 8.0, 5.0, 9.0, 12.5, 9.0, 5.5, 9.5, 13.0, 9.5, 5.5, 9.0, 13.0, 9.0, 5.5, 10.0, 13.5],
    [7.6, 3.3, 5.3, 8.5, 8.7, 4.7, 6.7, 9.9, 10.3, 6.1, 5.8, 9.8, 9.5, 5.8, 8.3, 10.3, 10.0, 5.2, 5.0, 7.4,
     7.5, 4.5, 4.8, 7.6, 6.6, 4.2, 3.8, 6.4, 7.0, 4.3, 4.0, 6.4, 7.0, 4.6, 5.2, 7.0, 7.2, 5.2, 5.6, 7.9,
     8.0, 5.4, 5.5, 7.2, 8.0, 5.2, 6.4, 8.6, 9.0, 6.4, 6.8, 9.2, 9.0, 6.4, 6.0, 9.0, 9.0, 6.4, 6.6, 8.8],
]
drempel_stoten = 75 / 3.6   # 75 km/h in m/s

# ---- opmaak ----
W, H = 652, 684


def px(x):
    return x / W


def py(y):
    return 1 - y / H


X_DOM = [px(36), px(640)]
GRID = '#dedede'
DAG = '#4a4a4a'
ROOD = '#c0403a'
BLAUW = '#3434b4'
PAARS = '#b43cc8'
GROEN = 'rgba(70,160,30,0.5)'
TEKST = 'Liberation Sans, Arial, sans-serif'

fig = go.Figure()


def paneel(leden, mediaan, gem, controle, oper, xa, ya, xlab):
    for lid in leden:
        fig.add_trace(go.Scatter(x=tijden, y=lid, mode='lines', line=dict(color=GROEN, width=1),
                                 xaxis=xa, yaxis=ya, hoverinfo='skip', showlegend=False))
    fig.add_trace(go.Scatter(x=tijden, y=mediaan, mode='lines', name='mediaan (middelste waarde)',
                             line=dict(color=PAARS, width=2.5, dash='dash'),
                             xaxis=xa, yaxis=ya, showlegend=False))
    fig.add_trace(go.Scatter(x=tijden, y=gem, mode='lines', name='gemiddelde',
                             line=dict(color='#111111', width=3, dash='dot'),
                             xaxis=xa, yaxis=ya, showlegend=False))
    fig.add_trace(go.Scatter(x=tijden[:len(controle)], y=controle, mode='lines', name='Controle',
                             line=dict(color=BLAUW, width=3.5), xaxis=xa, yaxis=ya, showlegend=False))
    fig.add_trace(go.Scatter(x=tijden[:len(oper)], y=oper, mode='lines', name='Oper.',
                             line=dict(color=ROOD, width=4), xaxis=xa, yaxis=ya, showlegend=False))
    # lege reeks zodat de as met dagnamen getekend wordt
    fig.add_trace(go.Scatter(x=middagen, y=[None] * len(middagen), mode='lines',
                             xaxis=xlab, yaxis=ya, hoverinfo='skip', showlegend=False))


paneel(leden_snelheid, med_snelheid, gem_snelheid, controle_snelheid, oper_snelheid, 'x', 'y', 'x3')
paneel(leden_stoten, med_stoten, gem_stoten, controle_stoten, oper_stoten, 'x2', 'y2', 'x4')


def x_as(anchor):
    # dagwissels als donkere rasterlijnen, 6-uurs raster licht
    return dict(domain=X_DOM, anchor=anchor, type='date', range=[tijden[0], tijden[-1]],
                tickvals=dagwissels, ticktext=[''] * len(dagwissels), ticks='outside', ticklen=5,
                tickcolor='#333', showgrid=True, gridcolor=DAG, gridwidth=1,
                minor=dict(dtick=6 * 3600 * 1000, tick0=tijden[0], ticks='outside', ticklen=5,
                           tickcolor='#333', showgrid=True, gridcolor=GRID, gridwidth=1),
                showline=True, linecolor='#222', linewidth=1, mirror=True, zeroline=False,
                fixedrange=True)


def label_as(over, anchor):
    # dagnamen midden op de dag
    return dict(domain=X_DOM, anchor=anchor, overlaying=over, type='date',
                range=[tijden[0], tijden[-1]], tickvals=middagen, ticktext=dag_labels,
                ticks='outside', ticklen=4, tickcolor='rgba(0,0,0,0)', showgrid=False,
                showline=False, zeroline=False, fixedrange=True,
                tickfont=dict(size=11, color='#222', family=TEKST))


def y_as(domain, anchor, top, stap):
    return dict(domain=domain, anchor=anchor, range=[0, top], dtick=stap, tick0=0,
                ticks='outside', ticklen=5, tickcolor='#333', showgrid=True, gridcolor=GRID,
                showline=True, linecolor='#222', linewidth=1, mirror=True, zeroline=False,
                tickfont=dict(size=11, color='#222', family=TEKST), fixedrange=True)


fig.update_layout(
    width=W, height=H, margin=dict(l=0, r=0, t=0, b=0),
    paper_bgcolor='white', plot_bgcolor='white',
    font=dict(family=TEKST, size=11, color='#333'),
    xaxis=x_as('y'), yaxis=y_as([py(305), py(45.5)], 'x', 11, 1),
    xaxis2=x_as('y2'), yaxis2=y_as([py(658.3), py(398.3)], 'x2', 26, 2),
    xaxis3=label_as('x', 'y'), xaxis4=label_as('x2', 'y2'),
    showlegend=False,
)

# drempellijn windstoten (75 km/h)
fig.add_shape(type='line', x0=0, x1=1, y0=drempel_stoten, y1=drempel_stoten,
              xref='x2 domain', yref='y2', line=dict(color='#2a4848', width=2, dash='dot'),
              layer='above')

# titels en bronvermelding
for titel, ytop in [('Windsnelheid', 12), ('Windstoten', 364.5)]:
    fig.add_annotation(text=titel, x=px(5), y=py(ytop), xref='paper', yref='paper',
                       xanchor='left', yanchor='middle', showarrow=False,
                       font=dict(size=19, color='#333', weight=500, family='Roboto'))

for ybron in [27.3, 380.1]:
    fig.add_annotation(text='Weerplaza.nl - regio midden', x=px(640), y=py(ybron),
                       xref='paper', yref='paper', xanchor='right', yanchor='middle',
                       showarrow=False, font=dict(size=9, color='#a8a8a8'))
    fig.add_annotation(text='Gemaakt: zo 16 aug 23:23', x=px(640), y=py(ybron + 9.4),
                       xref='paper', yref='paper', xanchor='right', yanchor='middle',
                       showarrow=False, font=dict(size=9, color='#a8a8a8'))

# legenda (handmatig, om de compacte Weerplaza-opmaak te volgen)
legenda_items = [
    ('Oper.', 34, 49, 53, dict(color=ROOD, width=4)),
    ('Controle', 105, 121, 124, dict(color=BLAUW, width=4)),
    ('Leden', 190, 203, 207, dict(color='#c8c8c8', width=1)),
    ('gemiddelde', 263, 277, 281, dict(color='#111111', width=3, dash='dot')),
    ('mediaan (middelste waarde)', 362, 375, 376, dict(color=PAARS, width=3, dash='9px,2px,2px,2px')),
]
for yleg in [38.3, 391.1]:
    for naam, x0, x1, xt, stijl in legenda_items:
        fig.add_shape(type='line', xref='paper', yref='paper', x0=px(x0), x1=px(x1),
                      y0=py(yleg), y1=py(yleg), line=stijl)
        fig.add_annotation(text=naam, x=px(xt), y=py(yleg), xref='paper', yref='paper',
                           xanchor='left', yanchor='middle', showarrow=False,
                           font=dict(size=11, color='#333'))

# paginamarge weg, zodat de figuur precies in het venster valt
fig.write_html('out.html', config={'displayModeBar': False},
               post_script="document.body.style.margin = '0';")
